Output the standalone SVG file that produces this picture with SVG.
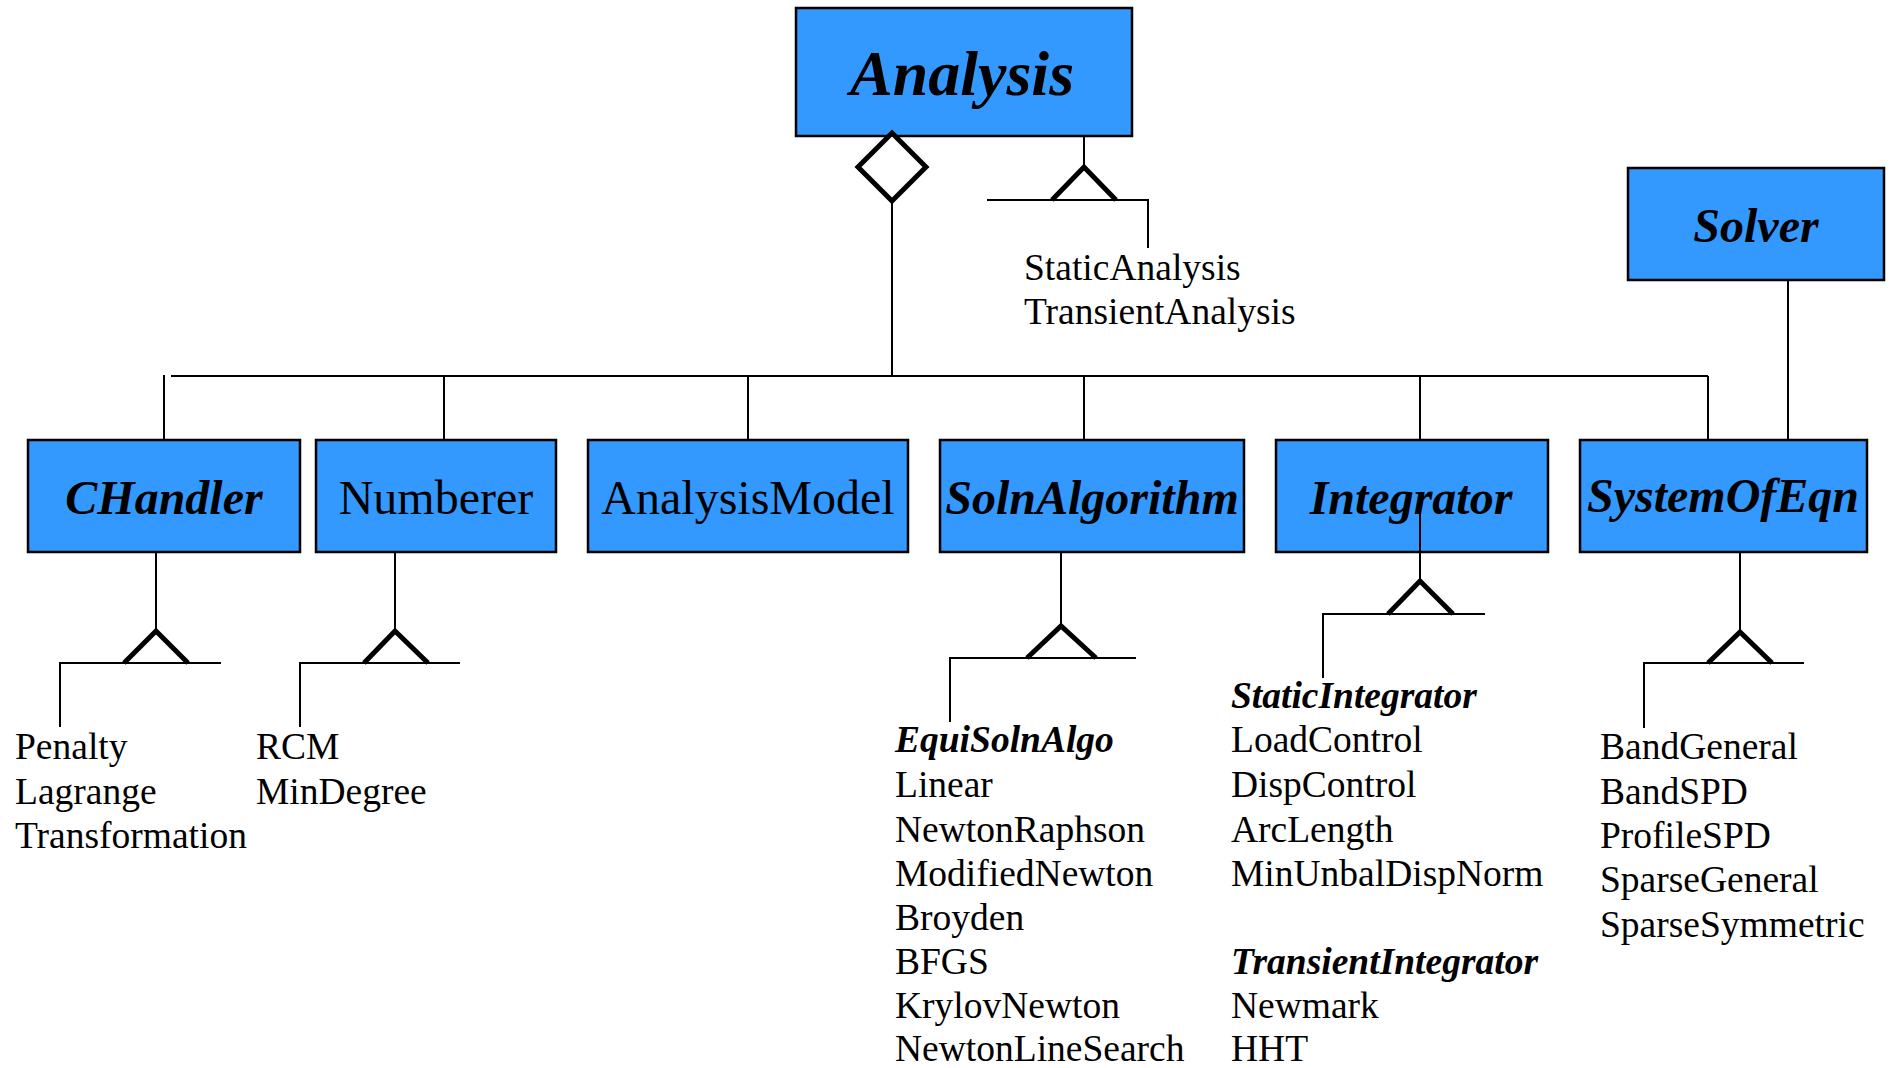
<svg xmlns="http://www.w3.org/2000/svg" width="1890" height="1068" viewBox="0 0 1890 1068">
<style>
.box{fill:#3399ff;stroke:#000;stroke-width:2.5}
.ln{stroke:#000;stroke-width:2;fill:none}
.tri{stroke:#000;stroke-width:5;fill:none;stroke-linejoin:miter}
.dia{stroke:#000;stroke-width:5;fill:#fff}
text{font-family:"Liberation Serif","Times New Roman",serif;fill:#000}
.nb{font-size:48px;font-weight:bold;font-style:italic;text-anchor:middle}
.nr{font-size:48px;text-anchor:middle}
.it{font-size:37.5px}
.bi{font-size:37.5px;font-weight:bold;font-style:italic}
</style>
<rect width="1890" height="1068" fill="#fff"/>
<g id="connectors">
<line class="ln" x1="892" y1="201" x2="892" y2="376"/>
<line class="ln" x1="171" y1="376" x2="1708" y2="376"/>
<line class="ln" x1="164" y1="375" x2="164" y2="440"/>
<line class="ln" x1="444" y1="376" x2="444" y2="440"/>
<line class="ln" x1="748" y1="376" x2="748" y2="440"/>
<line class="ln" x1="1084" y1="376" x2="1084" y2="440"/>
<line class="ln" x1="1420" y1="376" x2="1420" y2="440"/>
<line class="ln" x1="1708" y1="376" x2="1708" y2="440"/>
<line class="ln" x1="1788" y1="280" x2="1788" y2="440"/>
<line class="ln" x1="1084" y1="136" x2="1084" y2="167"/>
<polyline class="ln" points="987,200 1148,200 1148,248"/>
<line class="ln" x1="156" y1="552" x2="156" y2="631"/>
<polyline class="ln" points="60,727 60,663 221,663"/>
<line class="ln" x1="395" y1="552" x2="395" y2="631"/>
<polyline class="ln" points="300,727 300,663 460,663"/>
<line class="ln" x1="1061" y1="546" x2="1061" y2="626"/>
<polyline class="ln" points="950,722 950,658 1136,658"/>
<polyline class="ln" points="1323,678 1323,614 1485,614"/>
<line class="ln" x1="1740" y1="552" x2="1740" y2="632"/>
<polyline class="ln" points="1644,728 1644,663 1804,663"/>
</g>
<g id="Analysis">
<rect class="box" x="796" y="8" width="336" height="128"/>
<text x="962" y="95" font-size="64" font-weight="bold" font-style="italic" text-anchor="middle">Analysis</text>
</g>
<g id="Solver">
<rect class="box" x="1628" y="168" width="256" height="112"/>
<text class="nb" x="1756" y="242">Solver</text>
</g>
<g id="CHandler">
<rect class="box" x="28" y="440" width="272" height="112"/>
<text class="nb" x="164" y="514">CHandler</text>
</g>
<g id="Numberer">
<rect class="box" x="316" y="440" width="240" height="112"/>
<text class="nr" x="436" y="514">Numberer</text>
</g>
<g id="AnalysisModel">
<rect class="box" x="588" y="440" width="320" height="112"/>
<text class="nr" x="748" y="514">AnalysisModel</text>
</g>
<g id="SolnAlgorithm">
<rect class="box" x="940" y="440" width="304" height="112"/>
<text class="nb" x="1092" y="514">SolnAlgorithm</text>
</g>
<g id="Integrator">
<rect class="box" x="1276" y="440" width="272" height="112"/>
<text class="nb" x="1411" y="514">Integrator</text>
</g>
<g id="SystemOfEqn">
<rect class="box" x="1580" y="440" width="287" height="112"/>
<text class="nb" x="1723" y="512">SystemOfEqn</text>
</g>
<g id="markers">
<polygon class="dia" points="892,133 926,167 892,201 858,167"/>
<polyline class="tri" points="1052,200 1084,167 1116,200"/>
<polyline class="tri" points="124,663 156,631 188,663"/>
<polyline class="tri" points="364,663 395,631 428,663"/>
<polyline class="tri" points="1027,658 1061,626 1096,658"/>
<line class="ln" x1="1420" y1="510" x2="1420" y2="581"/>
<polyline class="tri" points="1388,614 1420,581 1453,614"/>
<polyline class="tri" points="1708,663 1740,632 1772,663"/>
</g>
<g id="AnalysisSubclasses">
<text class="it" x="1024" y="280">StaticAnalysis</text>
<text class="it" x="1024" y="324">TransientAnalysis</text>
</g>
<g id="CHandlerSubclasses">
<text class="it" x="15" y="759">Penalty</text>
<text class="it" x="15" y="804">Lagrange</text>
<text class="it" x="15" y="848">Transformation</text>
</g>
<g id="NumbererSubclasses">
<text class="it" x="256" y="759">RCM</text>
<text class="it" x="256" y="804">MinDegree</text>
</g>
<g id="SolnAlgorithmSubclasses">
<text class="bi" x="895" y="752">EquiSolnAlgo</text>
<text class="it" x="895" y="797">Linear</text>
<text class="it" x="895" y="842">NewtonRaphson</text>
<text class="it" x="895" y="886">ModifiedNewton</text>
<text class="it" x="895" y="930">Broyden</text>
<text class="it" x="895" y="974">BFGS</text>
<text class="it" x="895" y="1018">KrylovNewton</text>
<text class="it" x="895" y="1061">NewtonLineSearch</text>
</g>
<g id="IntegratorSubclasses">
<text class="bi" x="1231" y="708">StaticIntegrator</text>
<text class="it" x="1231" y="752">LoadControl</text>
<text class="it" x="1231" y="797">DispControl</text>
<text class="it" x="1231" y="842">ArcLength</text>
<text class="it" x="1231" y="886">MinUnbalDispNorm</text>
<text class="bi" x="1231" y="974">TransientIntegrator</text>
<text class="it" x="1231" y="1018">Newmark</text>
<text class="it" x="1231" y="1061">HHT</text>
</g>
<g id="SystemOfEqnSubclasses">
<text class="it" x="1600" y="759">BandGeneral</text>
<text class="it" x="1600" y="804">BandSPD</text>
<text class="it" x="1600" y="848">ProfileSPD</text>
<text class="it" x="1600" y="892">SparseGeneral</text>
<text class="it" x="1600" y="937">SparseSymmetric</text>
</g>
</svg>
